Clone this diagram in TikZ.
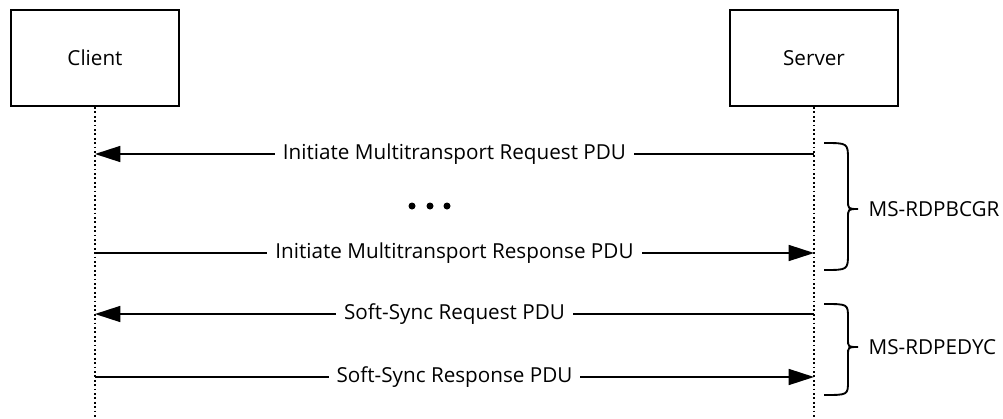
\documentclass[tikz,border=0pt]{standalone}
\usepackage{fontspec}
\setmainfont{Open Sans}
\usetikzlibrary{arrows.meta}

\tikzset{
  party/.style={draw,line width=1.5pt,minimum width=126pt,minimum height=72pt},
  lifeline/.style={dotted,line width=1.3pt},
  msg/.style={line width=1.2pt,-{Triangle[length=19pt,width=12pt]}},
  lbl/.style={fill=white,inner sep=6pt},
  curly/.style={line width=1.4pt},
}

\begin{document}
\begin{tikzpicture}[x=0.75pt,y=-0.75pt,font=\fontsize{15.5pt}{18pt}\selectfont]
\useasboundingbox (0,0) rectangle (1003,418);

\node[party] (client) at (95,58) {Client};
\node[party] (server) at (814,58) {Server};
\coordinate (cend) at (95,418);
\coordinate (send) at (814,418);
\draw[lifeline] (client.south) -- (cend);
\draw[lifeline] (server.south) -- (send);

% messages
\coordinate (c1) at (95,154);
\coordinate (s1) at (814,154);
\coordinate (c2) at (95,253);
\coordinate (s2) at (814,253);
\coordinate (c3) at (95,314);
\coordinate (s3) at (814,314);
\coordinate (c4) at (95,377);
\coordinate (s4) at (814,377);
\draw[msg] (s1) -- node[lbl] (req) {Initiate Multitransport Request PDU} (c1);
\draw[msg] (c2) -- node[lbl] (resp) {Initiate Multitransport Response PDU} (s2);
\draw[msg] (s3) -- node[lbl] (sreq) {Soft-Sync Request PDU} (c3);
\draw[msg] (c4) -- node[lbl] (sresp) {Soft-Sync Response PDU} (s4);

\foreach \x in {412,430,447}
  \fill (\x,206) circle (3.5);

% braces
\draw[curly] (824,143) .. controls (848,143) .. (848,160) -- (848,200)
  .. controls (848,209) .. (858,209) .. controls (848,209) .. (848,218)
  -- (848,253) .. controls (848,270) .. (824,270);
\draw[curly] (824,304) .. controls (848,304) .. (848,318) -- (848,339)
  .. controls (848,347) .. (858,347) .. controls (848,347) .. (848,355)
  -- (848,381) .. controls (848,395) .. (824,395);
\node[anchor=west] (bcgr) at (864,209) {MS-RDPBCGR};
\node[anchor=west] (edyc) at (864,347) {MS-RDPEDYC};
\end{tikzpicture}
\end{document}
